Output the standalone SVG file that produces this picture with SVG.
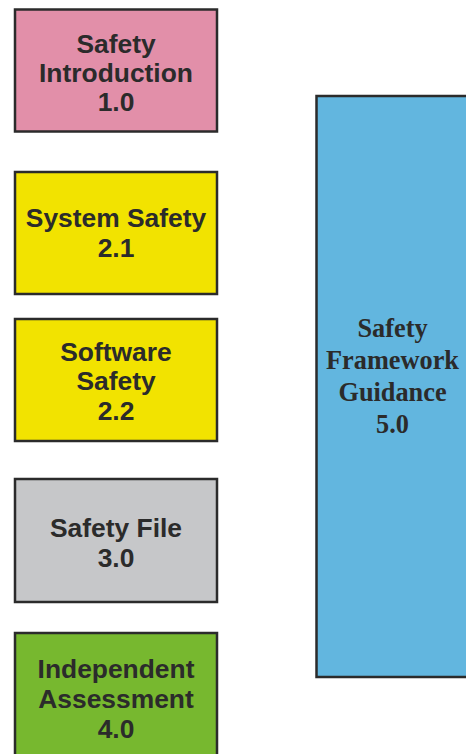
<svg xmlns="http://www.w3.org/2000/svg" width="466" height="754" viewBox="0 0 466 754">
<style>
.box{stroke:#2b2b2b;stroke-width:2.5}
.t{font-family:"Liberation Sans",Arial,sans-serif;font-weight:bold;font-size:26.4px;fill:#2b2b2b;text-anchor:middle}
.s{font-family:"Liberation Serif","Times New Roman",serif;font-weight:bold;font-size:26.3px;fill:#2b2b2b;text-anchor:middle}
</style>
<rect width="466" height="754" fill="#ffffff"/>
<g id="connectors"></g>
<g id="n1">
<rect class="box" x="15" y="9.5" width="202" height="122" fill="#e28fa9"/>
<text class="t" x="116" y="53">Safety</text>
<text class="t" x="116" y="82">Introduction</text>
<text class="t" x="116" y="111">1.0</text>
</g>
<g id="n21">
<rect class="box" x="15" y="172" width="202" height="122" fill="#f2e300"/>
<text class="t" x="116" y="227">System Safety</text>
<text class="t" x="116" y="257">2.1</text>
</g>
<g id="n22">
<rect class="box" x="15" y="319" width="202" height="122" fill="#f2e300"/>
<text class="t" x="116" y="361">Software</text>
<text class="t" x="116" y="390">Safety</text>
<text class="t" x="116" y="420">2.2</text>
</g>
<g id="n3">
<rect class="box" x="15" y="479" width="202" height="123" fill="#c6c7c9"/>
<text class="t" x="116" y="537">Safety File</text>
<text class="t" x="116" y="567">3.0</text>
</g>
<g id="n4">
<rect class="box" x="15" y="633" width="202" height="130" fill="#77b82f"/>
<text class="t" x="116" y="678">Independent</text>
<text class="t" x="116" y="708">Assessment</text>
<text class="t" x="116" y="738">4.0</text>
</g>
<g id="n5">
<rect class="box" x="316.5" y="96" width="160" height="581" fill="#62b6df"/>
<text class="s" x="392.5" y="337">Safety</text>
<text class="s" x="392.5" y="369">Framework</text>
<text class="s" x="392.5" y="401">Guidance</text>
<text class="s" x="392.5" y="433">5.0</text>
</g>
</svg>
